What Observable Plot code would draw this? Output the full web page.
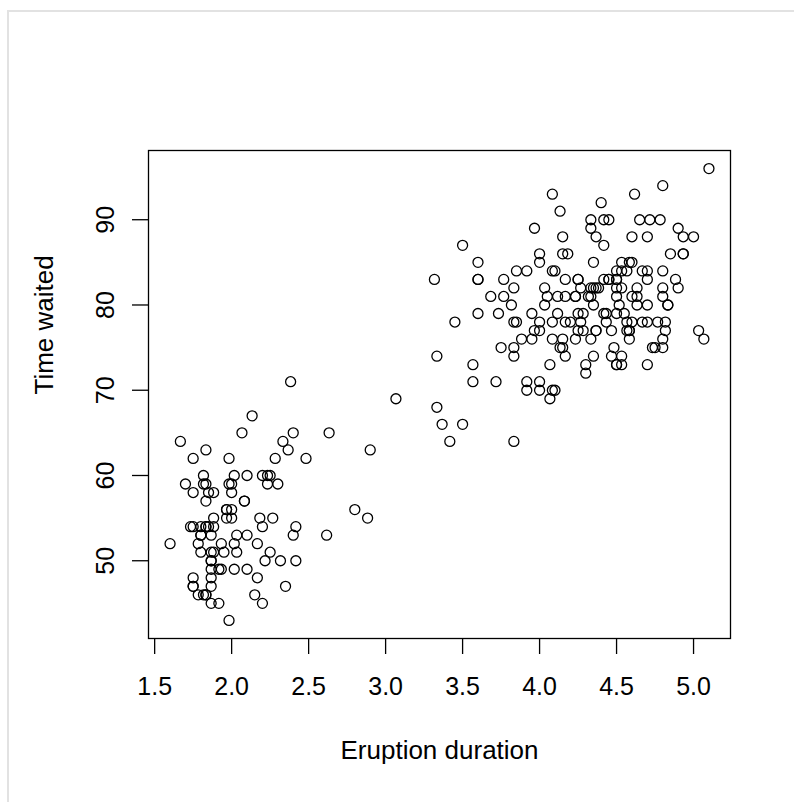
<!DOCTYPE html>
<html>
<head>
<meta charset="utf-8">
<script src="https://cdn.jsdelivr.net/npm/d3@7"></script>
<script src="https://cdn.jsdelivr.net/npm/@observablehq/plot@0.6"></script>
<style>
  html, body { margin: 0; padding: 0; background: #fff; }
  #wrap { position: relative; width: 794px; height: 802px; overflow: hidden; }
  #edge { position: absolute; left: 7px; top: 10px; right: -4px; bottom: -4px;
          border-left: 2px solid #e2e2e2; border-top: 2px solid #e2e2e2; pointer-events: none; }
  #wrap svg { position: absolute; left: 0; top: 0; }
</style>
</head>
<body>
<div id="wrap"><div id="edge"></div></div>
<script>
// Old Faithful: eruption duration (minutes) and waiting time (minutes)
const eruptions = [
3.600,1.800,3.333,2.283,4.533,2.883,4.700,3.600,1.950,4.350,1.833,3.917,4.200,1.750,4.700,2.167,1.750,4.800,1.600,4.250,
1.800,1.750,3.450,3.067,4.533,3.600,1.967,4.083,3.850,4.433,4.300,4.467,3.367,4.033,3.833,2.017,1.867,4.833,1.833,4.783,
4.350,1.883,4.567,1.750,4.533,3.317,3.833,2.100,4.633,2.000,4.800,4.716,1.833,4.833,1.733,4.883,3.717,1.667,4.567,4.317,
2.233,4.500,1.750,4.800,1.817,4.400,4.167,4.700,2.067,4.700,4.033,1.967,4.500,4.000,1.983,5.067,2.017,4.567,3.883,3.600,
4.133,4.333,4.100,2.633,4.067,4.933,3.950,4.517,2.167,4.000,2.200,4.333,1.867,4.817,1.833,4.300,4.667,3.750,1.867,4.900,
2.483,4.367,2.100,4.500,4.050,1.867,4.700,1.783,4.850,3.683,4.733,2.300,4.900,4.417,1.700,4.633,2.317,4.600,1.817,4.417,
2.617,4.067,4.250,1.967,4.600,3.767,1.917,4.500,2.267,4.650,1.867,4.167,2.800,4.333,1.833,4.383,1.883,4.933,2.033,3.733,
4.233,2.233,4.533,4.817,4.333,1.983,4.633,2.017,5.100,1.800,5.033,4.000,2.400,4.600,3.567,4.000,4.500,4.083,1.800,3.967,
2.200,4.150,2.000,3.833,3.500,4.583,2.367,5.000,1.933,4.617,1.917,2.083,4.583,3.333,4.167,4.333,4.500,2.417,4.000,4.167,
1.883,4.583,4.250,3.767,2.033,4.433,4.083,1.833,4.417,2.183,4.800,1.833,4.800,4.100,3.966,4.233,3.500,4.366,2.250,4.667,
2.100,4.350,4.133,1.867,4.600,1.783,4.367,3.850,1.933,4.500,2.383,4.700,1.867,3.833,3.417,4.233,2.400,4.800,2.000,4.150,
1.867,4.267,1.750,4.483,4.000,4.117,4.083,4.267,3.917,4.550,4.083,2.417,4.183,2.217,4.450,1.883,1.850,4.283,3.950,2.333,
4.150,2.350,4.933,2.900,4.583,3.833,2.083,4.367,2.133,4.350,2.200,4.450,3.567,4.500,4.150,3.817,3.917,4.450,2.000,4.283,
4.767,4.533,1.850,4.250,1.983,2.250,4.750,4.117,2.150,4.417,1.817,4.467
];
const waiting = [
79,54,74,62,85,55,88,85,51,85,54,84,78,47,83,52,62,84,52,79,
51,47,78,69,74,83,55,76,78,79,73,77,66,80,74,52,48,80,59,90,
80,58,84,58,73,83,64,53,82,59,75,90,54,80,54,83,71,64,77,81,
59,84,48,82,60,92,78,78,65,73,82,56,79,71,62,76,60,78,76,83,
75,82,70,65,73,88,76,80,48,86,60,90,50,78,63,72,84,75,51,82,
62,88,49,83,81,47,84,52,86,81,75,59,89,79,59,81,50,85,59,87,
53,69,77,56,88,81,45,82,55,90,45,83,56,89,46,82,51,86,53,79,
81,60,82,77,76,59,80,49,96,53,77,77,65,81,71,70,81,93,53,89,
45,86,58,78,66,76,63,88,52,93,49,57,77,68,81,81,73,50,85,74,
55,77,83,83,51,78,84,46,83,55,81,57,76,84,77,81,87,77,51,78,
60,82,91,53,78,46,77,84,49,83,71,80,49,75,64,76,53,94,55,76,
50,82,54,75,78,79,78,78,70,79,70,54,86,50,90,54,54,77,79,64,
75,47,86,63,85,82,57,82,67,74,54,83,73,73,88,80,71,83,56,79,
78,84,58,83,43,60,75,81,46,90,46,74
];
const xTicks = [1.5, 2.0, 2.5, 3.0, 3.5, 4.0, 4.5, 5.0];
const yTicks = [50, 60, 70, 80, 90];
const xTitle = "Eruption duration";
const yTitle = "Time waited";

const data = eruptions.map((e, i) => ({eruption: e, wait: waiting[i]}));

// R-style 4% padding of the data range
function pad(ext) { const d = (ext[1] - ext[0]) * 0.04; return [ext[0] - d, ext[1] + d]; }
const xDom = pad(d3.extent(eruptions));
const yDom = pad(d3.extent(waiting));

const font = "'Liberation Sans', Arial, Helvetica, sans-serif";

const chart = Plot.plot({
  width: 794,
  height: 802,
  marginLeft: 148,
  marginRight: 64,
  marginTop: 150,
  marginBottom: 164,
  style: {fontFamily: font, fontSize: "25px", color: "#000", background: "transparent", overflow: "visible"},
  x: {domain: xDom},
  y: {domain: yDom},
  marks: [
    Plot.axisX(xTicks, {tickSize: 16, tickPadding: 23, fontSize: 25, tickFormat: d3.format(".1f"), label: null, strokeWidth: 1.3}),
    Plot.axisY(yTicks, {tickSize: 16, tickPadding: 19, tickRotate: -90, fontSize: 25, label: null, strokeWidth: 1.3}),
    Plot.frame({stroke: "#000", strokeWidth: 1.3}),
    Plot.dot(data, {x: "eruption", y: "wait", r: 5, stroke: "#000", strokeWidth: 1.3, fill: "none"}),
    Plot.text([xTitle], {frameAnchor: "bottom", lineAnchor: "bottom", dy: 120, fontSize: 26, text: d => d}),
    Plot.text([yTitle], {frameAnchor: "left", lineAnchor: "bottom", rotate: -90, dx: -96, fontSize: 26, text: d => d})
  ]
});
document.getElementById("wrap").appendChild(chart);
</script>
</body>
</html>
